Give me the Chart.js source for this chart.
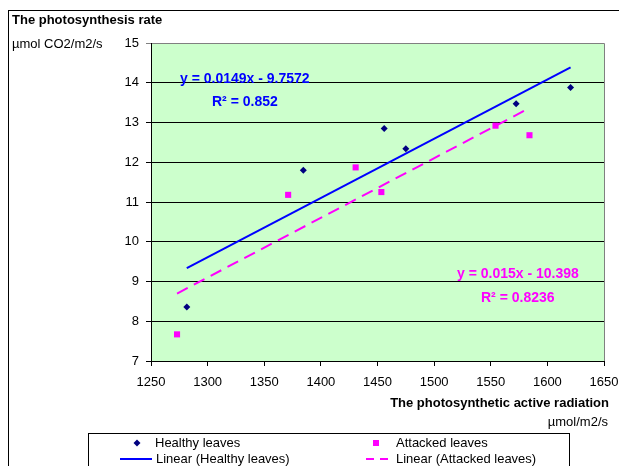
<!DOCTYPE html>
<html>
<head>
<meta charset="utf-8">
<script src="https://cdn.jsdelivr.net/npm/chart.js@4/dist/chart.umd.min.js"></script>
<style>
  html, body { margin: 0; padding: 0; background: #fff; }
  #wrap { width: 619px; height: 466px; position: relative; }
</style>
</head>
<body>
<div id="wrap"><canvas id="chart" width="619" height="466"></canvas></div>
<script>
// values
const healthyX = [1281.6, 1384.5, 1455.9, 1475, 1572.4, 1620.5];
const healthyY = [8.36, 11.80, 12.85, 12.34, 13.47, 13.88];
const attackedX = [1273, 1371.1, 1430.7, 1453.4, 1554.2, 1584.2];
const attackedY = [7.67, 11.18, 11.87, 11.25, 12.92, 12.68];

// trend lines as printed on the chart: [slope, intercept]
const healthyFit = [0.0149, -9.7572];
const attackedFit = [0.015, -10.398];

const xTicks = [1250, 1300, 1350, 1400, 1450, 1500, 1550, 1600, 1650];
const yTicks = [7, 8, 9, 10, 11, 12, 13, 14, 15];

const FONT = '"Liberation Sans", Arial, sans-serif';

const pts = (xs, ys) => xs.map((x, i) => ({ x: x, y: ys[i] }));
const fitLine = (xs, fit) => {
  const lo = Math.min(...xs), hi = Math.max(...xs);
  return [{ x: lo, y: fit[0] * lo + fit[1] }, { x: hi, y: fit[0] * hi + fit[1] }];
};

const decor = {
  id: 'decor',
  beforeDraw(chart) {
    const { ctx, chartArea: a } = chart;
    ctx.save();
    ctx.fillStyle = '#fff';
    ctx.fillRect(0, 0, chart.width, chart.height);
    ctx.fillStyle = '#ccffcc';
    ctx.fillRect(a.left, a.top, a.right - a.left, a.bottom - a.top);
    // plot frame, top and right are grey
    ctx.strokeStyle = '#808080';
    ctx.lineWidth = 1;
    ctx.beginPath();
    ctx.moveTo(a.left, a.top + 0.5);
    ctx.lineTo(a.right + 0.5, a.top + 0.5);
    ctx.lineTo(a.right + 0.5, a.bottom);
    ctx.stroke();
    ctx.restore();
  },
  afterDraw(chart) {
    const ctx = chart.ctx;
    ctx.save();
    // outer frame (runs past the right and bottom edges)
    ctx.strokeStyle = '#000';
    ctx.lineWidth = 1;
    ctx.strokeRect(8.5, 10.5, 700, 500);

    ctx.fillStyle = '#000';
    ctx.textBaseline = 'middle';
    ctx.textAlign = 'left';
    ctx.font = 'bold 13px ' + FONT;
    ctx.fillText('The photosynthesis rate', 12, 20);
    ctx.font = '13px ' + FONT;
    ctx.fillText('µmol CO2/m2/s', 12, 44);

    ctx.textAlign = 'right';
    ctx.font = 'bold 13px ' + FONT;
    ctx.fillText('The photosynthetic active radiation', 609, 403);
    ctx.font = '13px ' + FONT;
    ctx.fillText('µmol/m2/s', 608, 422);

    // regression labels
    ctx.textAlign = 'left';
    ctx.font = 'bold 14px ' + FONT;
    ctx.fillStyle = '#0000ff';
    ctx.fillText('y = 0.0149x - 9.7572', 180, 79);
    ctx.fillText('R² = 0.852', 212, 102);
    ctx.fillStyle = '#ff00ff';
    ctx.fillText('y = 0.015x - 10.398', 457, 274);
    ctx.fillText('R² = 0.8236', 481, 298);

    // legend box
    ctx.strokeStyle = '#000';
    ctx.strokeRect(88.5, 433.5, 481, 60);
    ctx.font = '13px ' + FONT;
    ctx.fillStyle = '#000';
    ctx.fillText('Healthy leaves', 155, 443);
    ctx.fillText('Linear (Healthy leaves)', 156, 459);
    ctx.fillText('Attacked leaves', 396, 443);
    ctx.fillText('Linear (Attacked leaves)', 396, 459);

    ctx.fillStyle = '#000080';
    ctx.beginPath();
    ctx.moveTo(137, 439.5); ctx.lineTo(140.5, 443); ctx.lineTo(137, 446.5); ctx.lineTo(133.5, 443);
    ctx.closePath(); ctx.fill();
    ctx.fillStyle = '#ff00ff';
    ctx.fillRect(373, 440, 6, 6);

    ctx.lineWidth = 2;
    ctx.strokeStyle = '#0000ff';
    ctx.beginPath(); ctx.moveTo(120, 459); ctx.lineTo(152, 459); ctx.stroke();
    ctx.strokeStyle = '#ff00ff';
    ctx.setLineDash([8, 6]);
    ctx.beginPath(); ctx.moveTo(366, 459); ctx.lineTo(392, 459); ctx.stroke();
    ctx.restore();
  }
};

new Chart(document.getElementById('chart'), {
  type: 'scatter',
  data: {
    datasets: [
      {
        label: 'Linear (Healthy leaves)',
        type: 'line',
        data: fitLine(healthyX, healthyFit),
        borderColor: '#0000ff',
        borderWidth: 2,
        pointRadius: 0,
        fill: false
      },
      {
        label: 'Linear (Attacked leaves)',
        type: 'line',
        data: fitLine(attackedX, attackedFit),
        borderColor: '#ff00ff',
        borderWidth: 2,
        borderDash: [12, 7],
        pointRadius: 0,
        fill: false
      },
      {
        label: 'Healthy leaves',
        data: pts(healthyX, healthyY),
        pointStyle: 'rectRot',
        pointRadius: 3.5,
        backgroundColor: '#000080',
        borderColor: '#000080',
        borderWidth: 0
      },
      {
        label: 'Attacked leaves',
        data: pts(attackedX, attackedY),
        pointStyle: 'rect',
        pointRadius: 4.3,
        backgroundColor: '#ff00ff',
        borderColor: '#ff00ff',
        borderWidth: 0
      }
    ]
  },
  options: {
    responsive: false,
    animation: false,
    layout: { padding: { left: 0, right: 0, top: 43, bottom: 0 } },
    plugins: { legend: { display: false }, tooltip: { enabled: false } },
    scales: {
      x: {
        type: 'linear',
        min: xTicks[0],
        max: xTicks[xTicks.length - 1],
        afterBuildTicks: s => { s.ticks = xTicks.map(v => ({ value: v })); },
        afterFit: s => { s.height = 105; s.paddingRight = 15; },
        border: { color: '#000', width: 1 },
        grid: { drawOnChartArea: false, drawTicks: true, tickLength: 5, color: '#000' },
        ticks: {
          color: '#000', font: { family: FONT, size: 13 }, padding: 9, maxRotation: 0,
          callback: v => String(v)
        }
      },
      y: {
        type: 'linear',
        min: yTicks[0],
        max: yTicks[yTicks.length - 1],
        afterBuildTicks: s => { s.ticks = yTicks.map(v => ({ value: v })); },
        afterFit: s => { s.width = 151; },
        border: { color: '#000', width: 1 },
        grid: {
          drawTicks: true,
          tickLength: 5,
          color: c => (c.tick && c.tick.value === 15 ? '#808080' : '#000')
        },
        ticks: { color: '#000', font: { family: FONT, size: 13 }, padding: 7 }
      }
    }
  },
  plugins: [decor]
});
</script>
</body>
</html>
